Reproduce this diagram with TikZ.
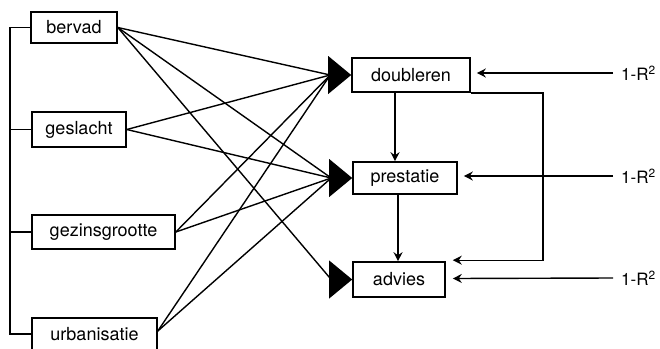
\documentclass[tikz,border=0pt]{standalone}
\usepackage{fontspec}
\setmainfont{TeX Gyre Heros}
\usetikzlibrary{arrows.meta,calc}
\begin{document}
\begin{tikzpicture}[x=1pt,y=-1pt,
  box/.style={draw,line width=1.6pt,inner sep=0pt,font=\fontsize{18}{20}\selectfont},
  ln/.style={line width=1.4pt},
  tip/.style={ln,-{Stealth[length=9pt,width=9pt,inset=3pt]}},
  lab/.style={inner sep=0pt,anchor=west,font=\fontsize{17}{19}\selectfont}]
\useasboundingbox (0,0) rectangle (660,348);
% left nodes
\node[box,minimum width=86pt,minimum height=31pt] (bervad) at (74,27.5) {bervad};
\node[box,minimum width=94pt,minimum height=35pt] (geslacht) at (79,129.5) {geslacht};
\node[box,minimum width=143pt,minimum height=34pt] (gezin) at (103.5,232) {gezinsgrootte};
\node[box,minimum width=125pt,minimum height=32pt] (urban) at (94.5,334) {urbanisatie};
% right nodes
\node[box,minimum width=118pt,minimum height=34pt] (doubleren) at (411,75) {doubleren};
\node[box,minimum width=104pt,minimum height=32pt] (prestatie) at (405,178) {prestatie};
\node[box,minimum width=92pt,minimum height=35pt] (advies) at (399,279.5) {advies};
% residual labels
\node[lab] (r1) at (621,73) {1-R\textsuperscript{2}};
\node[lab] (r2) at (621,176) {1-R\textsuperscript{2}};
\node[lab] (r3) at (621,278) {1-R\textsuperscript{2}};
% bracket
\coordinate (bx) at (10,0);
\draw[ln] (bervad.west) -- (bervad.west -| bx) -- (urban.west -| bx) -- (urban.west);
\draw[ln] (geslacht.west) -- (geslacht.west -| bx);
\draw[ln] (gezin.west) -- (gezin.west -| bx);
% big triangles
\foreach \n in {doubleren,prestatie,advies}{
  \fill (\n.west) -- ++(-23,-19) -- ++(0,38) -- cycle;
  \coordinate (\n-in) at ($(\n.west)+(-21,0)$);
}
% causal lines
\draw[ln] (bervad.east) -- (doubleren-in);
\draw[ln] (bervad.east) -- (prestatie-in);
\draw[ln] (bervad.east) -- (advies-in);
\draw[ln] (geslacht.east) -- (doubleren-in);
\draw[ln] (geslacht.east) -- (prestatie-in);
\draw[ln] (gezin.east) -- (doubleren-in);
\draw[ln] (gezin.east) -- (prestatie-in);
\draw[ln] ($(urban.east)+(0,-3)$) -- (doubleren-in);
\draw[ln] ($(urban.east)+(0,-3)$) -- (prestatie-in);
% vertical arrows
\coordinate (vx1) at (395,0);
\coordinate (vx2) at (398,0);
\draw[tip] (doubleren.south -| vx1) -- (prestatie.north -| vx1);
\draw[tip] (prestatie.south -| vx2) -- (advies.north -| vx2);
% residual arrows
\draw[tip] ($(r1.west)+(-8,0)$) -- ($(doubleren.east)+(6,-2)$);
\draw[tip] ($(r2.west)+(-8,0)$) -- ($(prestatie.east)+(6,-2)$);
\draw[tip] ($(r3.west)+(-8,0)$) -- ($(advies.east)+(7,-1)$);
% feedback doubleren -> advies
\coordinate (fx) at (543,0);
\draw[tip] (doubleren.south east) -- (doubleren.south east -| fx) -- ($(advies.north east -| fx)+(0,-1)$) -- ($(advies.north east)+(7,-1)$);
\end{tikzpicture}
\end{document}
